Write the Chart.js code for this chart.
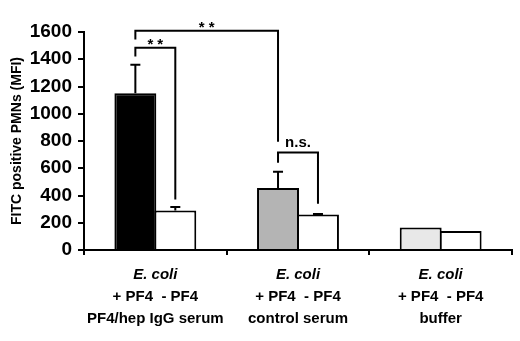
<!DOCTYPE html>
<html>
<head>
<meta charset="utf-8">
<script src="https://cdn.jsdelivr.net/npm/chart.js@4.4.1/dist/chart.umd.min.js"></script>
<style>
  html, body { margin: 0; padding: 0; background: #fff; }
</style>
</head>
<body>
<canvas id="myChart" width="520" height="341"></canvas>
<script>
// data
const groups = ["PF4/hep IgG serum", "control serum", "buffer"];
const plusPF4 = [1150, 455, 165];
const plusPF4Err = [210, 120, 0];
const minusPF4 = [290, 260, 140];
const minusPF4Err = [25, 5, 0];
const plusColors = ["#000000", "#b4b4b4", "#e8e8e8"];
const yMax = 1600;
const yStep = 200;

// significance brackets: [group, dataset] for each end, levels in MFI units
const brackets = [
  { from: [0, 0], to: [1, 0], top: 1610, leftEnd: 1545, rightEnd: 795, label: "**" },
  { from: [0, 0], to: [0, 1], top: 1485, leftEnd: 1420, rightEnd: 370, label: "**" },
  { from: [1, 0], to: [1, 1], top: 715, leftEnd: 640, rightEnd: 340, label: "n.s." },
];

const FONT = '"Liberation Sans", Arial, sans-serif';

const errorBars = {
  id: "errorBars",
  afterDatasetsDraw(chart) {
    const ctx = chart.ctx;
    const y = chart.scales.y;
    const errs = [plusPF4Err, minusPF4Err];
    ctx.save();
    ctx.strokeStyle = "#000";
    ctx.lineWidth = 2;
    chart.data.datasets.forEach((ds, d) => {
      const meta = chart.getDatasetMeta(d);
      meta.data.forEach((bar, i) => {
        const e = errs[d][i];
        if (!e) return;
        const top = y.getPixelForValue(ds.data[i] + e);
        ctx.beginPath();
        ctx.moveTo(bar.x, bar.y);
        ctx.lineTo(bar.x, top);
        ctx.moveTo(bar.x - 5, top);
        ctx.lineTo(bar.x + 5, top);
        ctx.stroke();
      });
    });
    ctx.restore();
  },
};

const annotations = {
  id: "annotations",
  afterDraw(chart) {
    const ctx = chart.ctx;
    const y = chart.scales.y;
    const x = chart.scales.x;
    ctx.save();
    ctx.strokeStyle = "#000";
    ctx.fillStyle = "#000";
    ctx.lineWidth = 2;
    brackets.forEach((b) => {
      const x1 = chart.getDatasetMeta(b.from[1]).data[b.from[0]].x;
      const x2 = chart.getDatasetMeta(b.to[1]).data[b.to[0]].x;
      const yt = y.getPixelForValue(b.top);
      ctx.beginPath();
      ctx.moveTo(x1, y.getPixelForValue(b.leftEnd));
      ctx.lineTo(x1, yt);
      ctx.lineTo(x2, yt);
      ctx.lineTo(x2, y.getPixelForValue(b.rightEnd));
      ctx.stroke();
      ctx.textAlign = "center";
      ctx.textBaseline = "alphabetic";
      ctx.font = "bold 15px " + FONT;
      if (b.label.startsWith("*")) {
        ctx.letterSpacing = "4px";
        ctx.fillText(b.label, (x1 + x2) / 2 + 2, yt + 1);
      } else {
        ctx.letterSpacing = "0px";
        ctx.fillText(b.label, (x1 + x2) / 2, yt - 6);
      }
    });
    ctx.letterSpacing = "0px";

    // category labels, three lines each
    ctx.textAlign = "center";
    ctx.textBaseline = "middle";
    groups.forEach((g, i) => {
      const cx = x.getPixelForValue(i);
      ctx.font = "italic bold 15px " + FONT;
      ctx.fillText("E. coli", cx, 275);
      ctx.font = "bold 15px " + FONT;
      ctx.fillText("+ PF4  - PF4", cx, 297);
      ctx.fillText(g, cx, 319);
    });
    ctx.restore();
  },
};

new Chart(document.getElementById("myChart"), {
  type: "bar",
  data: {
    labels: groups,
    datasets: [
      {
        label: "+ PF4",
        data: plusPF4,
        backgroundColor: plusColors,
        borderColor: "#000",
        borderWidth: 2,
        borderSkipped: "bottom",
      },
      {
        label: "- PF4",
        data: minusPF4,
        backgroundColor: "#ffffff",
        borderColor: "#000",
        borderWidth: 2,
        borderSkipped: "bottom",
      },
    ],
  },
  options: {
    responsive: false,
    animation: false,
    devicePixelRatio: 1,
    layout: { padding: { top: 32, right: 8, left: 0, bottom: 0 } },
    // bars slightly wider than their slot so neighbours share one border line
    datasets: { bar: { categoryPercentage: 0.56, barPercentage: 1.05 } },
    plugins: {
      legend: { display: false },
      tooltip: { enabled: false },
    },
    scales: {
      x: {
        ticks: { display: false },
        grid: {
          display: true,
          offset: true,
          drawOnChartArea: false,
          drawTicks: true,
          tickLength: 5,
          color: "#000",
          lineWidth: 2,
        },
        border: { display: true, color: "#000", width: 2 },
        afterFit(scale) {
          scale.height = 91;
        },
      },
      y: {
        min: 0,
        max: yMax,
        ticks: {
          stepSize: yStep,
          color: "#000",
          padding: 6,
          callback: (v) => String(v),
          font: { family: FONT, size: 19, weight: "bold" },
        },
        grid: {
          display: true,
          drawOnChartArea: false,
          drawTicks: true,
          tickLength: 6,
          color: "#000",
          lineWidth: 2,
        },
        border: { display: true, color: "#000", width: 2 },
        title: {
          display: true,
          text: "FITC positive PMNs (MFI)",
          color: "#000",
          padding: { top: 9, bottom: 0 },
          font: { family: FONT, size: 14, weight: "bold" },
        },
        afterFit(scale) {
          scale.width = 84;
        },
      },
    },
  },
  plugins: [errorBars, annotations],
});
</script>
</body>
</html>
